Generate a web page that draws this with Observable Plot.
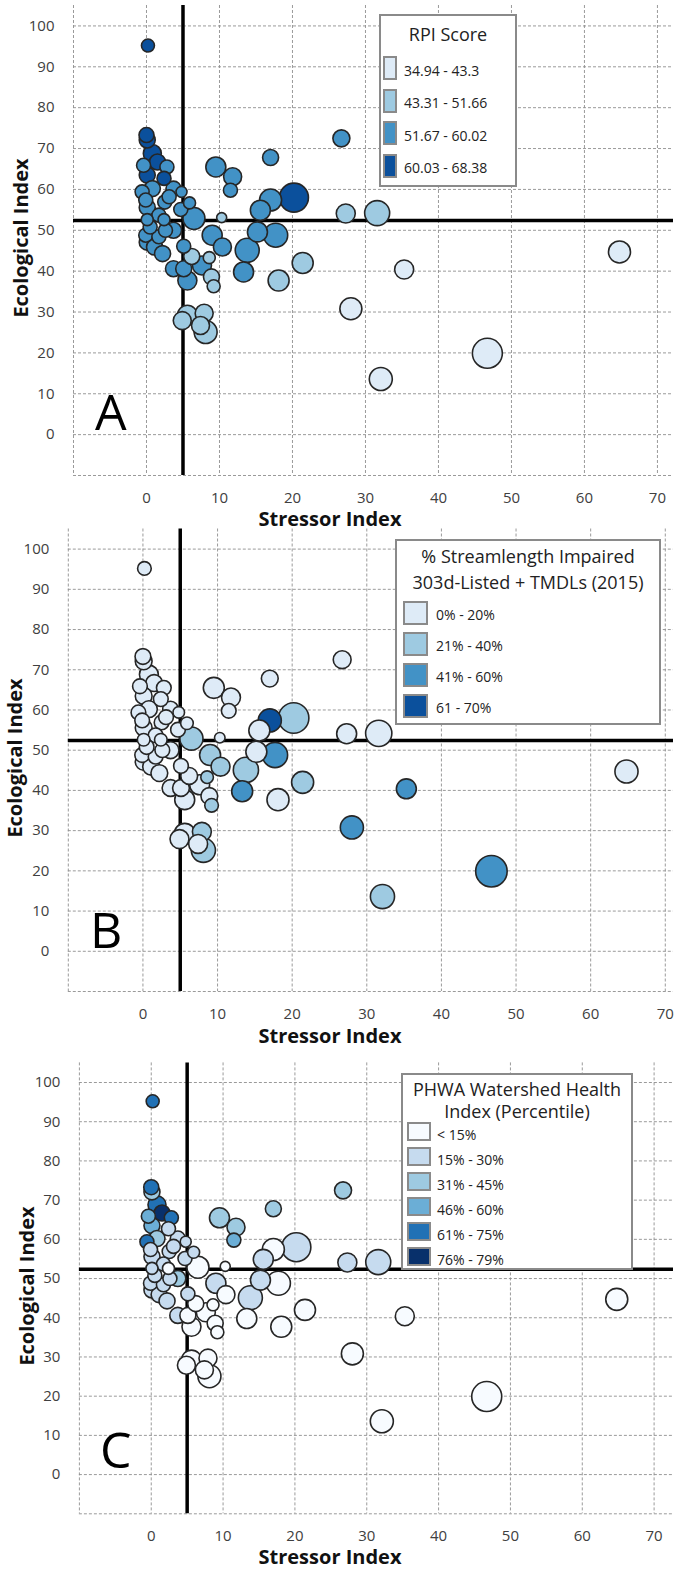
<!DOCTYPE html>
<html><head><meta charset="utf-8">
<script src="https://cdn.jsdelivr.net/npm/d3@7"></script>
<script src="https://cdn.jsdelivr.net/npm/@observablehq/plot@0.6"></script>
<style>
body{margin:0;background:#fff;}
#wrap{position:relative;width:674px;height:1574px;overflow:hidden;font-family:"Open Sans",sans-serif;background:#fff;}
.abs{position:absolute;white-space:nowrap;}
</style></head><body><div id="wrap"></div>
<script>
// ---- data ----
const stressor = [0.2,0.0,0.1,0.8,1.5,2.8,-0.4,0.1,2.4,0.8,
  -0.6,3.7,4.8,2.5,5.9,0.1,4.7,6.5,10.3,0.1,
  2.4,3.7,-0.1,1.7,0.1,1.1,2.2,5.1,9.0,10.4,
  3.7,5.1,5.6,6.2,7.6,8.6,8.9,9.2,5.6,4.9,
  7.9,7.4,8.1,9.5,11.8,11.5,1.7,3.1,-0.1,0.5,
  2.6,17.0,20.2,17.0,15.6,15.2,17.7,13.8,13.3,21.4,
  18.1,26.7,27.3,31.6,35.3,28.0,46.7,32.1,64.8];
const ecological = [95.2,73.3,72.1,68.8,66.7,65.5,65.9,63.5,62.7,60.2,
  59.4,60.2,59.4,56.9,56.7,55.6,55.1,52.9,53.1,52.6,
  52.6,50.0,48.8,48.4,47.1,45.9,44.3,46.1,48.8,45.9,
  40.6,40.6,37.7,43.6,41.4,43.3,38.6,36.3,29.2,27.9,
  29.7,26.7,25.1,65.5,63.1,59.8,53.7,58.2,57.4,50.8,
  50.0,67.8,58.0,57.4,54.9,49.6,48.8,45.1,39.8,42.0,
  37.7,72.5,54.1,54.2,40.4,30.8,19.9,13.6,44.7];
const bubbleSize = [6.5,7.5,8,9,8,7,7,8,7,8,
  7,7.5,5.5,7,6,8,7,11,5,6,
  6,8,7,7,8,8,8,7,10,9,
  8,8,9.5,8,9.5,6,8,6.5,10,9,
  9,9,11.5,10,9,7,7,7,7,7,
  7,8,14.5,11,10,10,12,12,10,10.5,
  10.5,8.5,9.5,12.5,9.5,11,15,11.5,11];
const rpiClass = [3,3,3,3,3,2,2,3,3,2,
  2,2,2,2,2,2,2,2,1,2,
  2,2,2,2,2,2,2,2,2,2,
  2,2,2,1,2,1,1,1,1,1,
  1,1,1,2,2,2,2,2,2,2,
  2,2,3,2,2,2,2,2,2,1,
  1,2,1,1,0,0,0,0,0];
const impairedClass = [0,0,0,0,0,0,0,0,0,0,
  0,0,0,0,0,0,0,1,0,0,
  0,0,0,0,0,0,0,0,1,1,
  0,0,0,0,0,1,0,1,0,0,
  1,0,1,0,0,0,0,0,0,0,
  0,0,1,3,0,0,2,1,2,1,
  0,0,0,0,2,2,2,1,0];
const phwaClass = [4,4,2,4,5,4,3,3,1,2,
  4,1,1,1,1,1,1,0,0,1,
  0,2,1,1,1,1,1,1,1,0,
  1,0,0,0,0,0,0,0,0,0,
  0,0,0,2,2,3,1,1,1,1,
  1,2,1,0,1,1,0,1,0,0,
  0,2,1,1,0,0,0,0,0];

const rpiLabels = ["34.94 - 43.3","43.31 - 51.66","51.67 - 60.02","60.03 - 68.38"];
const impairedLabels = ["0% - 20%","21% - 40%","41% - 60%","61 - 70%"];
const phwaLabels = ["< 15%","15% - 30%","31% - 45%","46% - 60%","61% - 75%","76% - 79%"];
const rpiColors = ["#deebf7","#9ecae1","#4292c6","#0b509c"];
const impairedColors = ["#deebf7","#9ecae1","#4292c6","#0b509c"];
const phwaColors = ["#f7fbff","#c6dbef","#9ecae1","#6baed6","#2171b5","#08306b"];
const xTicks = [0,10,20,30,40,50,60,70];
const yTicks = [0,10,20,30,40,50,60,70,80,90,100];
const xGrid = [-10,0,10,20,30,40,50,60,70];
const yGrid = [-10,0,10,20,30,40,50,60,70,80,90,100];
const stressorThreshold = 5;
const ecologicalThreshold = 52.4;

const wrap = document.getElementById("wrap");

function addDiv(text, css){
  const d = document.createElement("div");
  d.className = "abs";
  if (text != null) d.textContent = text;
  Object.assign(d.style, css);
  wrap.appendChild(d);
  return d;
}

const panels = [
  {top:0, height:528, mt:5, mb:53, ml:73, xmax:72.2, k:1.0, classes:rpiClass, colors:rpiColors, labels:rpiLabels,
   letter:"A", letterX:95, letterY:433, xLabY:519, yLabX:21, yLabY:238,
   legend:{left:379, top:14, w:138, h:173, title:["RPI Score"], titleY:[34], titleX:448,
           swX:383, swW:14, swH:24, swTop:[56,88.5,121,153.5], labX:404, labDy:2.5}},
  {top:522, height:524, mt:6.5, mb:55, ml:67.8, xmax:71.1, k:1.05, classes:impairedClass, colors:impairedColors, labels:impairedLabels,
   letter:"B", letterX:90, letterY:951, xLabY:1036, yLabX:15, yLabY:758,
   legend:{left:395, top:539, w:266, h:186, title:["% Streamlength Impaired","303d-Listed + TMDLs (2015)"], titleY:[556,582], titleX:528,
           swX:403, swW:25, swH:24, swTop:[601,632,663,694], labX:436, labDy:2}},
  {top:1056, height:518, mt:6.4, mb:60.7, ml:78.9, xmax:72.7, k:1.0, classes:phwaClass, colors:phwaColors, labels:phwaLabels,
   letter:"C", letterX:100, letterY:1471, xLabY:1557, yLabX:27, yLabY:1286,
   legend:{left:401, top:1073, w:232, h:197, title:["PHWA Watershed Health","Index (Percentile)"], titleY:[1088.5,1111], titleX:517,
           swX:407, swW:24, swH:19, swTop:[1122,1147,1172,1197,1222,1247], labX:437, labDy:3.5}}
];

for (const p of panels){
  const data = stressor.map((x,i)=>({x, y:ecological[i], s:bubbleSize[i], c:p.classes[i]}));
  const chart = Plot.plot({
    width:674, height:p.height,
    marginTop:p.mt, marginBottom:p.mb, marginLeft:p.ml, marginRight:1,
    x:{domain:[-10,p.xmax], label:null},
    y:{domain:[-10,105], label:null},
    r:{type:"linear", domain:[0,15], range:[0,15*p.k]},
    color:{type:"ordinal", domain:d3.range(p.colors.length), range:p.colors},
    style:{fontFamily:"'Open Sans', sans-serif", fontSize:"15px", color:"#404040", background:"transparent", overflow:"visible"},
    marks:[
      Plot.gridX(xGrid, {stroke:"#8f8f8f", strokeOpacity:1, strokeWidth:0.9, strokeDasharray:"3,2"}),
      Plot.gridY(yGrid, {stroke:"#8f8f8f", strokeOpacity:1, strokeWidth:0.9, strokeDasharray:"3,2"}),
      Plot.axisX(xTicks, {tickSize:0, tickPadding:17, fontSize:15, label:null}),
      Plot.axisY(yTicks, {tickSize:0, tickPadding:19, fontSize:15, label:null}),
      Plot.ruleX([stressorThreshold], {stroke:"#000", strokeWidth:3.5}),
      Plot.ruleY([ecologicalThreshold], {stroke:"#000", strokeWidth:3.5}),
      Plot.dot(data, {x:"x", y:"y", r:"s", fill:"c", fillOpacity:1, stroke:"#262626", strokeWidth:1.6})
    ]
  });
  const holder = addDiv(null, {left:"0px", top:p.top+"px"});
  holder.appendChild(chart);

  // axis titles and panel letter
  addDiv("Stressor Index", {left:"330px", top:p.xLabY+"px", transform:"translate(-50%,-50%)", fontWeight:"700", fontSize:"20px", lineHeight:"1", color:"#111"});
  addDiv("Ecological Index", {left:p.yLabX+"px", top:p.yLabY+"px", transform:"translate(-50%,-50%) rotate(-90deg)", fontWeight:"700", fontSize:"20px", lineHeight:"1", color:"#111"});
  addDiv(p.letter, {left:p.letterX+"px", top:(p.letterY-36-11)+"px", fontSize:"50px", lineHeight:"1", color:"#000", fontFamily:"'Open Sans', sans-serif"});

  // legend
  const L = p.legend;
  addDiv(null, {left:L.left+"px", top:L.top+"px", width:L.w+"px", height:L.h+"px", boxSizing:"border-box", border:"2px solid #8a8a8a", background:"#fff"});
  L.title.forEach((t,j)=> addDiv(t, {left:L.titleX+"px", top:L.titleY[j]+"px", transform:"translate(-50%,-50%)", fontSize:"18px", lineHeight:"1", color:"#222"}));
  p.labels.forEach((lab,j)=>{
    addDiv(null, {left:L.swX+"px", top:L.swTop[j]+"px", width:L.swW+"px", height:L.swH+"px", boxSizing:"border-box", border:"2px solid #8a8a8a", background:p.colors[j]});
    addDiv(lab, {left:L.labX+"px", top:(L.swTop[j]+L.swH/2+L.labDy)+"px", transform:"translateY(-50%)", fontSize:"14px", lineHeight:"1", color:"#222"});
  });
}
</script></body></html>
